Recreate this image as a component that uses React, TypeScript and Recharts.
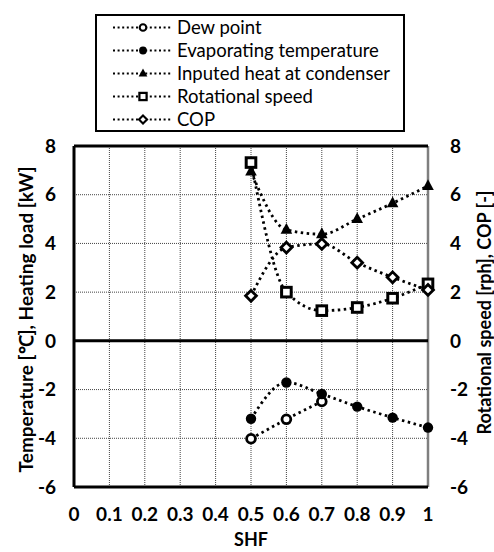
import React from 'react';
import { ComposedChart, Line, XAxis, YAxis, CartesianGrid, ReferenceLine, Legend, Label } from 'recharts';

const shf = [0.5, 0.6, 0.7, 0.8, 0.9, 1.0];
const dewPoint = [-4.02, -3.22, -2.49, null, null, null];
const evapTemp = [-3.2, -1.71, -2.18, -2.7, -3.15, -3.56];
const condenserHeat = [6.95, 4.56, 4.38, 5.0, 5.65, 6.36];
const rotSpeed = [7.32, 2.0, 1.24, 1.37, 1.75, 2.34];
const cop = [1.85, 3.83, 3.98, 3.21, 2.61, 2.09];
const xTicks = [0, 0.1, 0.2, 0.3, 0.4, 0.5, 0.6, 0.7, 0.8, 0.9, 1];
const yTicks = [-6, -4, -2, 0, 2, 4, 6, 8];

const seriesNames = ['Dew point', 'Evaporating temperature', 'Inputed heat at condenser', 'Rotational speed', 'COP'];
const seriesKinds = ['openCircle', 'filledCircle', 'triangle', 'square', 'diamond'];

const data = shf.map((x, i) => ({
  shf: x,
  dew: dewPoint[i],
  evap: evapTemp[i],
  heat: condenserHeat[i],
  rot: rotSpeed[i],
  cop: cop[i],
}));

const FONT = 'Lato, "Open Sans", sans-serif';
const DASH = '2.5 3.5';

function marker(kind: string, cx: number, cy: number, key: any, s = 1) {
  if (cx == null || cy == null || isNaN(cx) || isNaN(cy)) return <g key={key} />;
  switch (kind) {
    case 'openCircle':
      return <circle key={key} cx={cx} cy={cy} r={4.4 * s} fill="#fff" stroke="#000" strokeWidth={2.8 * s} />;
    case 'filledCircle':
      return <circle key={key} cx={cx} cy={cy} r={5.2 * s} fill="#000" stroke="none" />;
    case 'triangle':
      return (
        <polygon
          key={key}
          points={`${cx},${cy - 6.8 * s} ${cx - 5.8 * s},${cy + 4 * s} ${cx + 5.8 * s},${cy + 4 * s}`}
          fill="#000"
        />
      );
    case 'square':
      return (
        <rect key={key} x={cx - 4.8 * s} y={cy - 4.8 * s} width={9.6 * s} height={9.6 * s} fill="#fff" stroke="#000" strokeWidth={3 * s} />
      );
    case 'diamond':
    default:
      return (
        <polygon
          key={key}
          points={`${cx},${cy - 5.4 * s} ${cx + 5.4 * s},${cy} ${cx},${cy + 5.4 * s} ${cx - 5.4 * s},${cy}`}
          fill="#fff"
          stroke="#000"
          strokeWidth={2.8 * s}
        />
      );
  }
}

const dotFor = (kind: string) => (props: any) => marker(kind, props.cx, props.cy, `${kind}-${props.index}`);

function LegendBox() {
  return (
    <div
      style={{
        boxSizing: 'border-box',
        width: 310,
        height: 118,
        border: '2px solid #000',
        background: '#fff',
        fontFamily: FONT,
        fontSize: 18.5,
        color: '#000',
      }}
    >
      {seriesNames.map((name, i) => (
        <div key={name} style={{ display: 'flex', alignItems: 'center', height: 23, marginLeft: 16 }}>
          <svg width={58} height={23} style={{ display: 'block', flex: 'none' }}>
            <line x1={0} y1={11.5} x2={58} y2={11.5} stroke="#000" strokeWidth={2} strokeDasharray="2 2.6" />
            {marker(seriesKinds[i], 30, 11.5, 'm', 0.75)}
          </svg>
          <span style={{ marginLeft: 6, whiteSpace: 'nowrap', lineHeight: '23px' }}>{name}</span>
        </div>
      ))}
    </div>
  );
}

const tickStyle = { fill: '#000', fontSize: 19, fontWeight: 700, fontFamily: FONT };

export default function App() {
  return (
    <div style={{ position: 'absolute', left: 0, top: 0, width: 494, height: 552, background: '#fff' }}>
      <ComposedChart width={494} height={552} data={data} margin={{ top: 146, right: 0, bottom: 0, left: 0 }}>
        <CartesianGrid yAxisId="left" stroke="#444" strokeDasharray="1 1" strokeWidth={1} />
        <XAxis
          dataKey="shf"
          type="number"
          domain={[0, 1]}
          ticks={xTicks}
          interval={0}
          tickFormatter={(v: number) => String(Math.round(v * 10) / 10)}
          axisLine={false}
          tickLine={false}
          tickSize={0}
          tickMargin={21}
          height={65}
          tick={tickStyle}
        >
          <Label
            content={(p: any) => {
              const vb = p.viewBox;
              return (
                <text x={vb.x + vb.width / 2} y={vb.y + 59} textAnchor="middle" fontFamily={FONT} fontSize={18} fontWeight={700} fill="#000">
                  SHF
                </text>
              );
            }}
          />
        </XAxis>
        <YAxis
          yAxisId="left"
          domain={[-6, 8]}
          ticks={yTicks}
          interval={0}
          axisLine={false}
          tickLine={false}
          tickSize={0}
          tickMargin={18}
          width={74}
          tick={tickStyle}
        >
          <Label
            content={(p: any) => {
              const vb = p.viewBox;
              const cx = vb.x + 25;
              const cy = vb.y + vb.height / 2 + 3;
              return (
                <text x={cx} y={cy} transform={`rotate(-90 ${cx} ${cy})`} textAnchor="middle" dominantBaseline="central" fontFamily={FONT} fontSize={19} fontWeight={700} fill="#000">
                  Temperature [℃], Heating load [kW]
                </text>
              );
            }}
          />
        </YAxis>
        <YAxis
          yAxisId="right"
          orientation="right"
          domain={[-6, 8]}
          ticks={yTicks}
          interval={0}
          axisLine={false}
          tickLine={false}
          tickSize={0}
          tickMargin={22}
          width={66}
          tick={tickStyle}
        >
          <Label
            content={(p: any) => {
              const vb = p.viewBox;
              const cx = vb.x + 56;
              const cy = vb.y + vb.height / 2 - 4;
              return (
                <text x={cx} y={cy} transform={`rotate(-90 ${cx} ${cy})`} textAnchor="middle" dominantBaseline="central" fontFamily={FONT} fontSize={18} fontWeight={700} fill="#000">
                  Rotational speed [rph], COP [-]
                </text>
              );
            }}
          />
        </YAxis>

        <ReferenceLine yAxisId="left" x={1} stroke="#7f7f7f" strokeWidth={2.5} />
        <ReferenceLine yAxisId="left" x={0} stroke="#000" strokeWidth={3} />
        <ReferenceLine yAxisId="left" y={8} stroke="#000" strokeWidth={3} />
        <ReferenceLine yAxisId="left" y={-6} stroke="#000" strokeWidth={3} />
        <ReferenceLine yAxisId="left" y={0} stroke="#000" strokeWidth={3} />

        <Line yAxisId="left" dataKey="dew" name={seriesNames[0]} type="monotone" stroke="#000" strokeWidth={2.8} strokeDasharray={DASH} dot={dotFor('openCircle')} activeDot={false} isAnimationActive={false} />
        <Line yAxisId="left" dataKey="evap" name={seriesNames[1]} type="monotone" stroke="#000" strokeWidth={2.8} strokeDasharray={DASH} dot={dotFor('filledCircle')} activeDot={false} isAnimationActive={false} />
        <Line yAxisId="left" dataKey="heat" name={seriesNames[2]} type="monotone" stroke="#000" strokeWidth={2.8} strokeDasharray={DASH} dot={dotFor('triangle')} activeDot={false} isAnimationActive={false} />
        <Line yAxisId="right" dataKey="rot" name={seriesNames[3]} type="monotone" stroke="#000" strokeWidth={2.8} strokeDasharray={DASH} dot={dotFor('square')} activeDot={false} isAnimationActive={false} />
        <Line yAxisId="right" dataKey="cop" name={seriesNames[4]} type="monotone" stroke="#000" strokeWidth={2.8} strokeDasharray={DASH} dot={dotFor('diamond')} activeDot={false} isAnimationActive={false} />

        <Legend
          layout="vertical"
          align="center"
          verticalAlign="middle"
          wrapperStyle={{ position: 'absolute', top: 14, left: 95, width: 310, height: 118 }}
          content={() => <LegendBox />}
        />
      </ComposedChart>
    </div>
  );
}
